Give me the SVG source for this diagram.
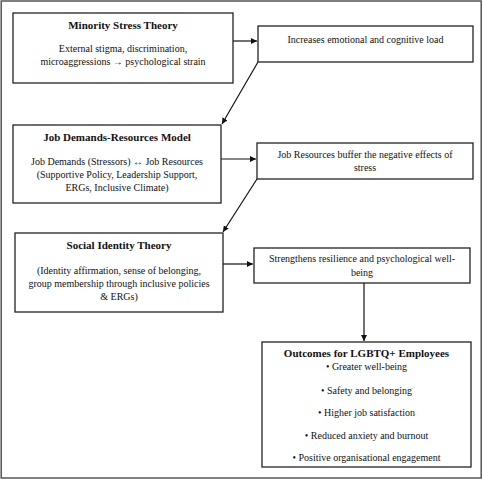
<svg xmlns="http://www.w3.org/2000/svg" width="483" height="480" viewBox="0 0 483 480">
<style>
.box{fill:#fff;stroke:#222;stroke-width:1.3}
.t{font-family:"Liberation Serif","Times New Roman",serif;font-size:10px;fill:#111;text-anchor:middle}
.b{font-weight:bold;font-size:11px}
.c{stroke:#111;stroke-width:1.2;fill:none;marker-end:url(#ah)}
</style>
<defs>
<marker id="ah" viewBox="0 0 10 10" refX="10" refY="5" markerWidth="6" markerHeight="6" markerUnits="userSpaceOnUse" orient="auto">
<path d="M0,0 L10,5 L0,10 z" fill="#111"/>
</marker>
</defs>
<rect x="0" y="0" width="483" height="480" fill="#fff"/>
<rect x="1.2" y="1" width="480" height="477" fill="none" stroke="#555" stroke-width="1.5"/>
<g id="connectors">
<line class="c" x1="233" y1="41" x2="257" y2="41"/>
<line class="c" x1="258" y1="62" x2="222" y2="124"/>
<line class="c" x1="221" y1="159" x2="256" y2="159"/>
<line class="c" x1="257" y1="179" x2="223" y2="232"/>
<line class="c" x1="223" y1="264" x2="253" y2="264"/>
<line class="c" x1="364" y1="283" x2="364" y2="341"/>
</g>
<g id="minority">
<rect class="box" x="13" y="13" width="220" height="70"/>
<text class="t b" x="123" y="29">Minority Stress Theory</text>
<text class="t" x="123" y="51.5">External stigma, discrimination,</text>
<text class="t" x="123" y="65">microaggressions → psychological strain</text>
</g>
<g id="load">
<rect class="box" x="258" y="26" width="215" height="36"/>
<text class="t" x="365.5" y="42.5">Increases emotional and cognitive load</text>
</g>
<g id="jdr">
<rect class="box" x="13" y="125" width="208" height="78"/>
<text class="t b" x="117" y="141">Job Demands-Resources Model</text>
<text class="t" x="117" y="164.5">Job Demands (Stressors) ↔ Job Resources</text>
<text class="t" x="117" y="177.5">(Supportive Policy, Leadership Support,</text>
<text class="t" x="117" y="190.5">ERGs, Inclusive Climate)</text>
</g>
<g id="buffer">
<rect class="box" x="257" y="143" width="216" height="36"/>
<text class="t" x="365" y="157.5">Job Resources buffer the negative effects of</text>
<text class="t" x="365" y="170.5">stress</text>
</g>
<g id="social">
<rect class="box" x="15" y="233" width="208" height="79"/>
<text class="t b" x="119" y="249">Social Identity Theory</text>
<text class="t" x="119" y="273.5">(Identity affirmation, sense of belonging,</text>
<text class="t" x="119" y="286.5">group membership through inclusive policies</text>
<text class="t" x="119" y="299.5">&amp; ERGs)</text>
</g>
<g id="resilience">
<rect class="box" x="254" y="248" width="216" height="35"/>
<text class="t" x="362" y="261.5">Strengthens resilience and psychological well-</text>
<text class="t" x="362" y="275.5">being</text>
</g>
<g id="outcomes">
<rect class="box" x="262" y="342" width="209" height="125"/>
<text class="t b" x="366.5" y="357">Outcomes for LGBTQ+ Employees</text>
<text class="t" x="366.5" y="369.5">• Greater well-being</text>
<text class="t" x="366.5" y="393.5">• Safety and belonging</text>
<text class="t" x="366.5" y="415.5">• Higher job satisfaction</text>
<text class="t" x="366.5" y="438.5">• Reduced anxiety and burnout</text>
<text class="t" x="366.5" y="461">• Positive organisational engagement</text>
</g>
</svg>
